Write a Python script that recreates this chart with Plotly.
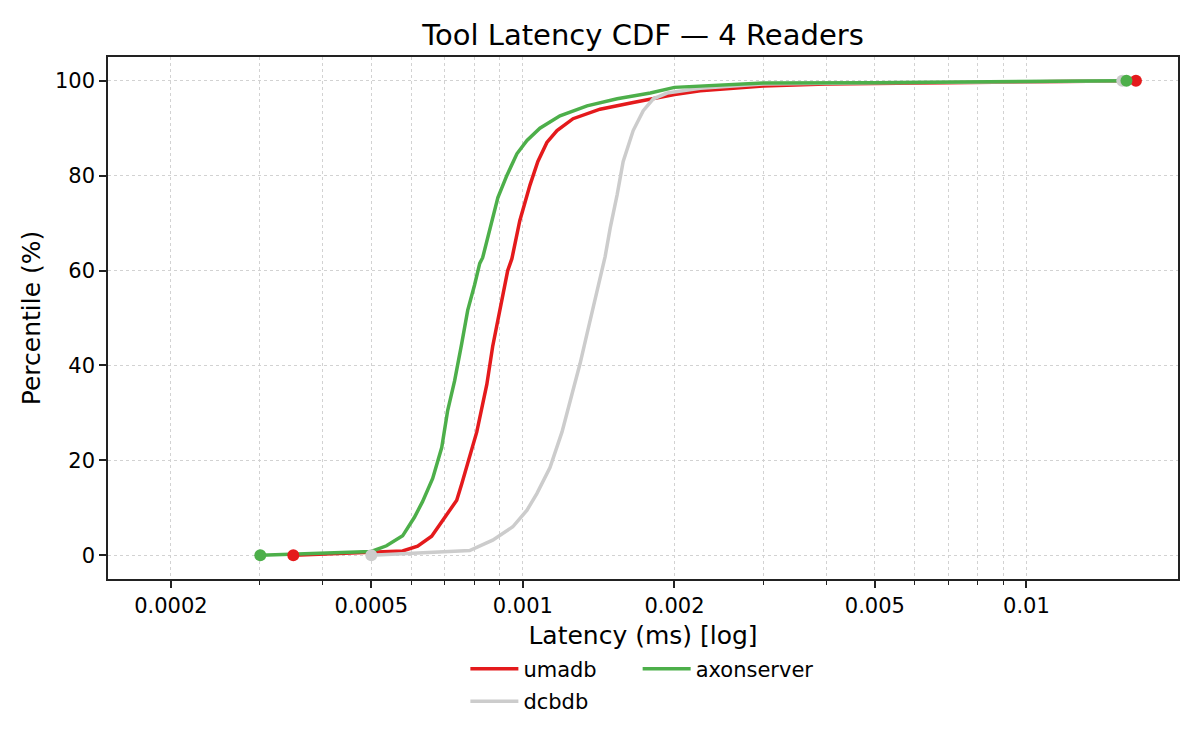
import numpy as np
import plotly.graph_objects as go

# latency (ms) / percentile pairs
umadb_ms = [0.00035, 0.0005, 0.000577, 0.000618, 0.000659, 0.000739, 0.000756, 0.00081,
            0.000848, 0.000871, 0.0009, 0.000933, 0.000951, 0.000986, 0.001033, 0.001071,
            0.001116, 0.001169, 0.001258, 0.001423, 0.001656, 0.001935, 0.002, 0.00225,
            0.003, 0.004, 0.006, 0.01, 0.0165]
umadb_pct = [0, 0.6, 0.9, 1.9, 4.0, 11.6, 15, 26, 36, 44, 52, 60, 62.5, 70.5, 78, 83,
             87, 89.5, 92, 94, 95.4, 96.8, 97.1, 97.9, 98.9, 99.3, 99.5, 99.7, 100]

dcbdb_ms = [0.0005, 0.000784, 0.000871, 0.000955, 0.001019, 0.001066, 0.001132, 0.001196,
            0.001252, 0.001299, 0.001341, 0.001379, 0.001423, 0.001457, 0.001491, 0.001539,
            0.001582, 0.001656, 0.001734, 0.001816, 0.001935, 0.00225, 0.003, 0.005, 0.01,
            0.0155]
dcbdb_pct = [0, 1.0, 3.2, 6.0, 9.5, 13, 18.5, 26, 34, 40.4, 46.7, 52, 58.5, 63, 69, 76,
             83, 89.5, 93.7, 96.2, 97.4, 98.4, 99.3, 99.6, 99.8, 100]

axon_ms = [0.000301, 0.0005, 0.000536, 0.000577, 0.000609, 0.000632, 0.000662, 0.00069,
           0.000709, 0.000732, 0.000756, 0.000777, 0.000802, 0.000821, 0.000832, 0.00086,
           0.000892, 0.000929, 0.000973, 0.001019, 0.001081, 0.001185, 0.001341, 0.001539,
           0.001791, 0.002, 0.003, 0.005, 0.01, 0.0158]
axon_pct = [0, 0.8, 2.0, 4.1, 8, 11.3, 16.2, 22.7, 30.5, 36.8, 44.6, 51.6, 57, 61.5, 62.7,
            69, 75.4, 80, 84.6, 87.4, 90, 92.6, 94.7, 96.2, 97.4, 98.6, 99.5, 99.6, 99.8, 100]

major_ticks = [0.0002, 0.0005, 0.001, 0.002, 0.005, 0.01]
major_labels = ['0.0002', '0.0005', '0.001', '0.002', '0.005', '0.01']
minor_ticks = [0.0003, 0.0004, 0.0006, 0.0007, 0.0008, 0.0009,
               0.003, 0.004, 0.006, 0.007, 0.008, 0.009]
y_ticks = [0, 20, 40, 60, 80, 100]

series = [
    ('umadb', umadb_ms, umadb_pct, '#e41a1c', 'legend'),
    ('dcbdb', dcbdb_ms, dcbdb_pct, '#cccccc', 'legend'),
    ('axonserver', axon_ms, axon_pct, '#4daf4a', 'legend2'),
]

FONT = 'DejaVu Sans'
AXIS = '#222222'
GRID = '#d2d2d2'

fig = go.Figure()

for name, xs, ys, color, lg in series:
    fig.add_trace(go.Scatter(
        x=xs, y=ys, mode='lines', name=name,
        line=dict(color=color, width=3.5),
        legend=lg, legendgroup=name
    ))

# first / last point markers
for name, xs, ys, color, lg in series:
    fig.add_trace(go.Scatter(
        x=[xs[0], xs[-1]], y=[ys[0], ys[-1]], mode='markers',
        marker=dict(color=color, size=12),
        showlegend=False, hoverinfo='skip'
    ))

# page body has an 8px margin, so margins are shifted by that amount
fig.update_layout(
    width=1200, height=750,
    margin=dict(l=100, r=30, t=49, b=179),
    paper_bgcolor='white', plot_bgcolor='white',
    font=dict(family=FONT, color='black', size=21),
    title=dict(text='Tool Latency CDF — 4 Readers', x=0.5, xref='paper',
               y=1 - 27 / 750, yref='container', yanchor='middle',
               font=dict(size=29)),
    legend=dict(orientation='v', x=0.334, y=-0.1335, xanchor='left', yanchor='top',
                font=dict(size=21), bgcolor='rgba(0,0,0,0)', itemwidth=48,
                traceorder='grouped', tracegroupgap=2),
    legend2=dict(orientation='v', x=0.495, y=-0.1335, xanchor='left', yanchor='top',
                 font=dict(size=21), bgcolor='rgba(0,0,0,0)', itemwidth=48),
)

fig.update_xaxes(
    type='log', range=[np.log10(0.00015), np.log10(0.02)],
    tickmode='array', tickvals=major_ticks, ticktext=major_labels,
    ticks='outside', ticklen=7, tickwidth=1.5, tickcolor=AXIS,
    showline=True, linecolor=AXIS, linewidth=1.5, mirror=True,
    showgrid=True, gridcolor=GRID, griddash='dot', gridwidth=1,
    zeroline=False, tickfont=dict(size=21),
    minor=dict(tickmode='array', tickvals=minor_ticks, ticks='outside', ticklen=4,
               tickwidth=1.2, tickcolor=AXIS, showgrid=True, gridcolor=GRID,
               griddash='dot', gridwidth=1),
    title=dict(text='Latency (ms) [log]', font=dict(size=25), standoff=10),
    automargin=False,
)

fig.update_yaxes(
    range=[-5, 105], tickmode='array', tickvals=y_ticks,
    ticks='outside', ticklen=7, tickwidth=1.5, tickcolor=AXIS,
    showline=True, linecolor=AXIS, linewidth=1.5, mirror=True,
    showgrid=True, gridcolor=GRID, griddash='dot', gridwidth=1,
    zeroline=False, tickfont=dict(size=21),
    title=dict(text='Percentile (%)', font=dict(size=25), standoff=7),
    automargin=False,
)

fig.write_html('out.html')
